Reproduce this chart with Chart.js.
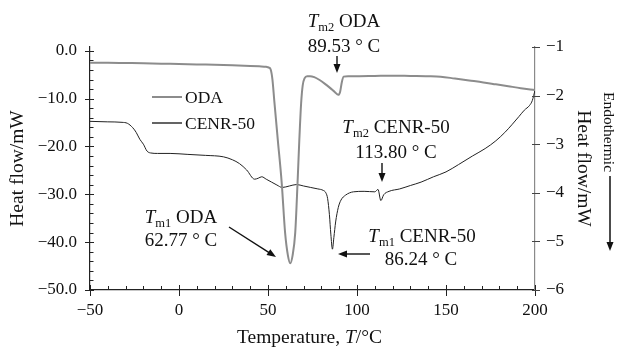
<!DOCTYPE html>
<html>
<head>
<meta charset="utf-8">
<script src="https://cdn.jsdelivr.net/npm/chart.js@4.4.1/dist/chart.umd.min.js"></script>
<style>
  html, body { margin: 0; padding: 0; background: #fff; }
  #wrap { width: 617px; height: 347px; }
</style>
</head>
<body>
<div id="wrap"><canvas id="dscChart" width="617" height="347"></canvas></div>
<script>
// DSC curves: ODA (left axis) and CENR-50 (right axis)
const odaTemp = [-50, -40, -30, -20, -10, 0, 10, 20, 30, 40,
  45, 49, 50.5, 51.5, 52.5, 53.5, 55.5, 57.7, 59.6, 61.2,
  62.5, 63.8, 65.3, 66.6, 67.6, 68.6, 69.5, 70.6, 72, 73.6,
  76, 79, 82, 85, 87.5, 89.5, 90.5, 91.5, 92.5, 95,
  100, 110, 120, 130, 140, 147, 155, 163, 171, 178,
  185, 192, 200];
const odaHeat = [-2.5, -2.5, -2.55, -2.6, -2.7, -2.75, -2.85, -2.9, -3.0, -3.15,
  -3.25, -3.35, -3.5, -3.9, -6.0, -10.3, -18.6, -27.6, -38.0, -42.8,
  -44.4, -42.8, -38.0, -27.6, -18.6, -11.0, -7.2, -5.7, -5.3, -5.3,
  -5.5, -6.1, -6.9, -7.8, -8.6, -9.2, -8.6, -6.5, -5.4, -5.3,
  -5.3, -5.25, -5.2, -5.25, -5.3, -5.4, -5.8, -6.2, -6.6, -7.0,
  -7.4, -7.8, -8.2];

const cenrTemp = [-50, -40, -32, -29, -26, -24, -22, -20, -18, -16,
  -12, -5, 5, 15, 25, 30, 34, 38, 42.5, 44.5,
  46.5, 49, 52, 55, 58, 62, 66, 70, 74, 78,
  81, 82.5, 83.5, 84.5, 85.3, 86.2, 87, 88, 89.5, 91,
  93.5, 98, 104, 110, 111.8, 113.4, 115, 118, 124, 130,
  136, 143, 150, 157, 165, 172, 178, 183, 187, 191,
  194, 197, 198.5, 200];
const cenrHeat = [-2.53, -2.54, -2.55, -2.57, -2.66, -2.76, -2.9, -3.0, -3.14, -3.18,
  -3.19, -3.19, -3.21, -3.23, -3.26, -3.32, -3.40, -3.53, -3.72, -3.70,
  -3.67, -3.72, -3.78, -3.84, -3.89, -3.86, -3.83, -3.86, -3.89, -3.92,
  -3.95, -4.0, -4.12, -4.45, -4.85, -5.16, -4.92, -4.6, -4.3, -4.15,
  -4.05, -3.98, -3.97, -3.98, -3.93, -4.16, -4.04, -3.97, -3.92, -3.85,
  -3.78, -3.67, -3.57, -3.42, -3.24, -3.09, -2.93, -2.76, -2.6, -2.43,
  -2.3, -2.2, -2.1, -1.89];

const xTicks = [-50, 0, 50, 100, 150, 200];
const leftTicks = [-50, -40, -30, -20, -10, 0];
const rightTicks = [-6, -5, -4, -3, -2, -1];
const xMinorStep = 10;
const leftMinorStep = 2;

const SERIF = '"Liberation Serif", "DejaVu Serif", serif';
const minus = s => String(s).replace('-', '\u2212');

// テキストを複数スタイルで描く（斜体T・下付き文字用）
function drawRuns(ctx, runs, cx, baseY) {
  let total = 0;
  runs.forEach(r => {
    ctx.font = r.font;
    r.w = ctx.measureText(r.text).width;
    total += r.w;
  });
  let x = cx - total / 2;
  ctx.textAlign = 'left';
  ctx.textBaseline = 'alphabetic';
  runs.forEach(r => {
    ctx.font = r.font;
    ctx.fillText(r.text, x, baseY + (r.dy || 0));
    x += r.w;
  });
}

function arrow(ctx, x1, y1, x2, y2) {
  const ang = Math.atan2(y2 - y1, x2 - x1);
  const len = 9, half = 3.5;
  ctx.beginPath();
  ctx.moveTo(x1, y1);
  ctx.lineTo(x2 - Math.cos(ang) * len * 0.6, y2 - Math.sin(ang) * len * 0.6);
  ctx.stroke();
  ctx.beginPath();
  ctx.moveTo(x2, y2);
  ctx.lineTo(x2 - Math.cos(ang) * len - Math.sin(ang) * half, y2 - Math.sin(ang) * len + Math.cos(ang) * half);
  ctx.lineTo(x2 - Math.cos(ang) * len + Math.sin(ang) * half, y2 - Math.sin(ang) * len - Math.cos(ang) * half);
  ctx.closePath();
  ctx.fill();
}

function tmLabel(sub, name) {
  return [
    { text: 'T', font: 'italic 19px ' + SERIF },
    { text: sub, font: '12.5px ' + SERIF, dy: 4 },
    { text: ' ' + name, font: '19px ' + SERIF }
  ];
}
function tempLabel(t) {
  return [{ text: t + ' \u00b0 C', font: '19px ' + SERIF }];
}

const decorPlugin = {
  id: 'dscDecor',
  afterDraw(chart) {
    const ctx = chart.ctx;
    const { x, y, y2 } = chart.scales;
    const area = chart.chartArea;
    ctx.save();

    // 目盛り
    ctx.strokeStyle = '#222';
    ctx.lineWidth = 1;
    ctx.beginPath();
    for (let v = x.min; v <= x.max; v += xMinorStep) {
      const px = Math.round(x.getPixelForValue(v)) + 0.5;
      const major = xTicks.includes(v);
      ctx.moveTo(px, area.bottom - (major ? 5 : 4));
      ctx.lineTo(px, area.bottom + (major ? 6 : 0));
    }
    for (let v = leftTicks[0]; v <= leftTicks[leftTicks.length - 1]; v += leftMinorStep) {
      const py = Math.round(y.getPixelForValue(v)) + 0.5;
      const major = leftTicks.includes(v);
      ctx.moveTo(area.left - (major ? 5 : 0), py);
      ctx.lineTo(area.left + (major ? 4 : 3.5), py);
    }
    ctx.stroke();
    ctx.strokeStyle = '#444';
    ctx.beginPath();
    rightTicks.forEach(v => {
      const py = Math.round(y2.getPixelForValue(v)) + 0.5;
      ctx.moveTo(area.right - 3, py);
      ctx.lineTo(area.right + 5, py);
    });
    ctx.stroke();

    // 凡例
    ctx.font = '17.5px ' + SERIF;
    ctx.textAlign = 'left';
    ctx.textBaseline = 'middle';
    chart.data.datasets.forEach((ds, i) => {
      const ly = 97 + i * 26;
      ctx.strokeStyle = ds.borderColor;
      ctx.lineWidth = i === 0 ? 2 : 1.4;
      ctx.beginPath();
      ctx.moveTo(152, ly);
      ctx.lineTo(182, ly);
      ctx.stroke();
      ctx.fillStyle = '#111';
      ctx.fillText(ds.label, 185, ly + 1);
    });

    // 注記
    ctx.fillStyle = '#111';
    ctx.strokeStyle = '#111';
    ctx.lineWidth = 1.4;
    drawRuns(ctx, tmLabel('m2', 'ODA'), 344, 27);
    drawRuns(ctx, tempLabel('89.53'), 344, 52);
    arrow(ctx, 337, 56, 337, 73);

    drawRuns(ctx, tmLabel('m2', 'CENR-50'), 396, 133);
    drawRuns(ctx, tempLabel('113.80'), 396, 158);
    arrow(ctx, 382, 163, 382, 182);

    drawRuns(ctx, tmLabel('m1', 'ODA'), 181, 223);
    drawRuns(ctx, tempLabel('62.77'), 181, 246);
    arrow(ctx, 229, 227, 276, 257);

    drawRuns(ctx, tmLabel('m1', 'CENR-50'), 422, 242);
    drawRuns(ctx, tempLabel('86.24'), 421, 265);
    arrow(ctx, 370, 254, 338, 254);

    // x軸タイトル
    drawRuns(ctx, [
      { text: 'Temperature, ', font: '19.5px ' + SERIF },
      { text: 'T', font: 'italic 19.5px ' + SERIF },
      { text: '/\u00b0C', font: '19.5px ' + SERIF }
    ], (area.left + area.right) / 2 - 3, 343);

    // 右端 Endothermic と矢印
    ctx.save();
    ctx.translate(604, 132);
    ctx.rotate(Math.PI / 2);
    ctx.font = '15.5px ' + SERIF;
    ctx.textAlign = 'center';
    ctx.textBaseline = 'alphabetic';
    ctx.fillText('Endothermic', 0, 0);
    ctx.restore();
    ctx.lineWidth = 1.5;
    arrow(ctx, 610, 176, 610, 251);

    ctx.restore();
  }
};

const ctx = document.getElementById('dscChart').getContext('2d');
new Chart(ctx, {
  type: 'line',
  data: {
    datasets: [{
      label: 'ODA',
      data: odaTemp.map((t, i) => ({ x: t, y: odaHeat[i] })),
      borderColor: '#8c8c8c',
      borderWidth: 2,
      pointRadius: 0,
      cubicInterpolationMode: 'monotone',
      yAxisID: 'y'
    }, {
      label: 'CENR-50',
      data: cenrTemp.map((t, i) => ({ x: t, y: cenrHeat[i] })),
      borderColor: '#222',
      borderWidth: 1,
      pointRadius: 0,
      cubicInterpolationMode: 'monotone',
      yAxisID: 'y2'
    }]
  },
  options: {
    responsive: false,
    animation: false,
    devicePixelRatio: 1,
    layout: { padding: { top: 47, left: 0, right: 0, bottom: 0 } },
    plugins: {
      legend: { display: false },
      tooltip: { enabled: false }
    },
    scales: {
      x: {
        type: 'linear',
        min: -50,
        max: 200,
        afterBuildTicks: scale => { scale.ticks = xTicks.map(v => ({ value: v })); },
        afterFit: scale => { scale.height = 57; },
        grid: { display: false, drawTicks: false },
        border: { display: true, color: '#222', width: 1.2 },
        ticks: {
          padding: 10,
          color: '#111',
          font: { family: SERIF, size: 17 },
          callback: v => minus(v),
          maxRotation: 0
        }
      },
      y: {
        type: 'linear',
        position: 'left',
        min: -50,
        max: 0.8,
        afterBuildTicks: scale => { scale.ticks = leftTicks.map(v => ({ value: v })); },
        afterFit: scale => { scale.width = 90; },
        grid: { display: false, drawTicks: false },
        border: { display: true, color: '#222', width: 1.2 },
        ticks: {
          padding: 13,
          color: '#111',
          font: { family: SERIF, size: 17 },
          callback: v => minus(v.toFixed(1))
        },
        title: {
          display: true,
          text: 'Heat flow/mW',
          color: '#111',
          font: { family: SERIF, size: 19.5, lineHeight: 1 },
          padding: { top: 8, bottom: 0 }
        }
      },
      y2: {
        type: 'linear',
        position: 'right',
        min: -6,
        max: -1,
        afterBuildTicks: scale => { scale.ticks = rightTicks.map(v => ({ value: v })); },
        afterFit: scale => { scale.width = 82; },
        grid: { display: false, drawTicks: false },
        border: { display: true, color: '#8a8a8a', width: 1.2 },
        ticks: {
          padding: 11,
          color: '#111',
          font: { family: SERIF, size: 17 },
          callback: v => minus(v)
        },
        title: {
          display: true,
          text: 'Heat flow/mW',
          color: '#111',
          font: { family: SERIF, size: 19.5, lineHeight: 1 },
          padding: { top: 24, bottom: 0 }
        }
      }
    }
  },
  plugins: [decorPlugin]
});
</script>
</body>
</html>
